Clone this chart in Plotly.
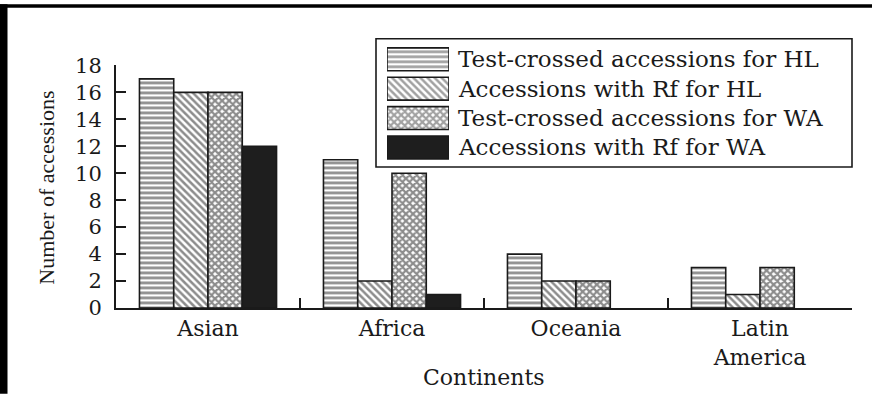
import plotly.graph_objects as go

# Accessions per continent
continents = ["Asian", "Africa", "Oceania", "Latin<br>America"]
series_names = [
    "Test-crossed accessions for HL",
    "Accessions with Rf for HL",
    "Test-crossed accessions for WA",
    "Accessions with Rf for WA",
]
test_crossed_hl = [17, 11, 4, 3]
rf_hl = [16, 2, 2, 1]
test_crossed_wa = [16, 10, 2, 3]
rf_wa = [12, 1, 0, 0]
y_ticks = list(range(0, 19, 2))

# Fill style of each series: (pattern shape, pattern size, solidity, fill colour)
styles = [
    ("-", 5, 0.55, "white"),
    ("\\", 5, 0.5, "white"),
    ("x", 5, 0.7, "white"),
    ("", 8, 0.3, "#1e1e1e"),
]

W, H = 872, 395
ML, MR, MT, MB = 116, 20, 20, 87
PW, PH = W - ML - MR, H - MT - MB
AXIS_BOTTOM = H - MB            # pixel row of the x axis
AXIS_TOP = 62                   # pixel row of the value 18


def px_x(px):
    return (px - ML) / PW


def px_y(py):
    return (AXIS_BOTTOM - py) / PH


INK = "#1a1a1a"
SERIF_WIDE = "DejaVu Serif"
SERIF = "Liberation Serif"

fig = go.Figure()

all_values = [test_crossed_hl, rf_hl, test_crossed_wa, rf_wa]
for name, vals, (shape, size, solid, col) in zip(series_names, all_values, styles):
    fig.add_trace(go.Bar(
        x=continents, y=vals, name=name, showlegend=False,
        marker=dict(
            color=col,
            # empty bars get no outline
            line=dict(color=INK, width=[1.6 if v > 0 else 0 for v in vals]),
            pattern=dict(shape=shape, size=size, solidity=solid,
                         fgcolor=INK, bgcolor="white", fillmode="overlay"),
        ),
        xaxis="x", yaxis="y",
    ))

# Key swatches drawn as one horizontal bar per series on a hidden axis pair
fig.add_trace(go.Bar(
    y=series_names, x=[1] * len(series_names), orientation="h",
    showlegend=False, hoverinfo="skip",
    marker=dict(
        color=[s[3] for s in styles],
        line=dict(color=INK, width=1.6),
        pattern=dict(shape=[s[0] for s in styles], size=[s[1] for s in styles],
                     solidity=[s[2] for s in styles], fgcolor=INK,
                     bgcolor="white", fillmode="overlay"),
    ),
    xaxis="x2", yaxis="y2", width=0.78,
))

annotations = []
for name in series_names:
    annotations.append(dict(
        text=name, xref="paper", yref="y2", x=px_x(456), y=name,
        xanchor="left", yanchor="middle", showarrow=False,
        font=dict(family=SERIF_WIDE, size=23, color=INK),
    ))

annotations.append(dict(
    text="Number of accessions", xref="paper", yref="paper",
    x=px_x(47), y=px_y(186), textangle=-90, showarrow=False,
    xanchor="center", yanchor="middle",
    font=dict(family=SERIF, size=22, color=INK),
))
annotations.append(dict(
    text="Continents", xref="paper", yref="paper",
    x=px_x(484), y=px_y(378.5), showarrow=False,
    xanchor="center", yanchor="middle",
    font=dict(family=SERIF_WIDE, size=22, color=INK),
))

shapes = [
    # key frame
    dict(type="rect", xref="paper", yref="paper",
         x0=px_x(376), x1=px_x(852), y0=px_y(165), y1=px_y(35),
         line=dict(color=INK, width=1.6), fillcolor="rgba(0,0,0,0)", layer="above"),
    # dark frame edges on the left and top
    dict(type="line", xref="paper", yref="paper",
         x0=px_x(3.75), x1=px_x(3.75), y0=px_y(H), y1=px_y(0),
         line=dict(color="black", width=7.5), layer="above"),
    dict(type="line", xref="paper", yref="paper",
         x0=px_x(0), x1=px_x(W), y0=px_y(1.75), y1=px_y(1.75),
         line=dict(color="black", width=3.5), layer="above"),
]

y_top_frac = (AXIS_BOTTOM - AXIS_TOP) / PH

fig.update_layout(
    width=W, height=H,
    margin=dict(l=ML, r=MR, t=MT, b=MB, pad=0),
    paper_bgcolor="white", plot_bgcolor="white",
    barmode="group", bargap=0.255, bargroupgap=0,
    showlegend=False,
    annotations=annotations, shapes=shapes,
    xaxis=dict(
        domain=[0, 1], anchor="y",
        showline=True, linecolor=INK, linewidth=2,
        ticks="inside", tickson="boundaries", ticklen=10, tickwidth=1.6, tickcolor=INK,
        tickfont=dict(family=SERIF_WIDE, size=22, color=INK),
        ticklabelstandoff=0, showgrid=False, zeroline=False,
    ),
    yaxis=dict(
        domain=[0, y_top_frac], anchor="x", range=[0, 18],
        tickvals=y_ticks, ticktext=[str(v) for v in y_ticks],
        showline=True, linecolor=INK, linewidth=2,
        ticks="inside", ticklen=10, tickwidth=1.6, tickcolor=INK,
        tickfont=dict(family=SERIF_WIDE, size=21, color=INK),
        ticklabelstandoff=8, showgrid=False, zeroline=False,
    ),
    xaxis2=dict(domain=[px_x(387), px_x(449)], anchor="y2", range=[0, 1],
                visible=False, fixedrange=True),
    yaxis2=dict(domain=[px_y(160.4), px_y(40.6)], anchor="x2",
                categoryorder="array", categoryarray=series_names[::-1],
                visible=False, fixedrange=True),
)

fig.write_html("out.html", config={"displayModeBar": False})
